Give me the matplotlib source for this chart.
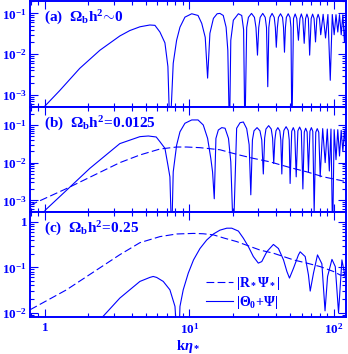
import matplotlib
matplotlib.use('Agg')
import matplotlib.pyplot as plt
from matplotlib.ticker import LogLocator, NullFormatter

blue = '#0000ff'

plt.rcParams['font.family'] = ['Liberation Serif', 'DejaVu Serif']
plt.rcParams['font.weight'] = 'bold'
plt.rcParams['mathtext.fontset'] = 'custom'
plt.rcParams['mathtext.rm'] = 'Liberation Serif:bold'
plt.rcParams['mathtext.it'] = 'Liberation Serif:bold:italic'
plt.rcParams['mathtext.bf'] = 'Liberation Serif:bold'

# panel (a): Omega_b h^2 ~ 0, |Theta_0 + Psi|
a_k = [1.0, 1.26, 1.74, 2.40, 3.30, 3.87, 4.55, 5.33, 5.78, 6.26, 6.78, 7.11, 7.35,
       7.74, 8.17, 8.62, 9.33, 10.4, 11.5, 12.2, 12.9, 13.4,
       13.9, 14.7, 15.6, 16.3, 17.2, 18.0, 18.5, 19.0,
       19.4, 20.2, 21.9, 23.1, 23.8, 24.3,
       25.0, 25.7, 27.0, 28.3, 29.0, 29.7,
       30.3, 31.0, 32.3, 33.6, 34.3, 35.0,
       35.6, 36.3, 37.5, 38.8, 39.5, 40.1,
       40.8, 41.5, 42.9, 44.3, 45.0, 45.7,
       46.4, 47.1, 48.5, 49.9, 50.7, 51.4,
       52.8, 54.2, 55.6, 57.1,
       58.5, 59.8, 61.2, 62.6,
       64.0, 65.4, 66.9, 68.3,
       70.0, 71.6, 73.3, 75.0,
       76.6, 78.2, 79.9, 81.5,
       84.7, 88.0, 91.4, 94.9, 98.0, 101, 104, 107, 110, 113, 116, 119, 122]
a_v = [5.4e-4, 1.27e-3, 4.5e-3, 0.0125, 0.028, 0.038, 0.047, 0.052, 0.051, 0.035, 0.019, 0.005, 1e-4,
       0.006, 0.022, 0.046, 0.081, 0.098, 0.089, 0.057, 0.026, 0.0026,
       0.0325, 0.0755, 0.098, 0.1, 0.089, 0.046, 0.0125, 1e-4,
       0.022, 0.068, 0.098, 0.089, 0.04, 1e-4,
       0.045, 0.08, 0.1, 0.08, 0.045, 0.0095,
       0.045, 0.08, 0.1, 0.08, 0.045, 0.0016,
       0.045, 0.08, 0.1, 0.08, 0.045, 0.0148,
       0.045, 0.08, 0.098, 0.08, 0.045, 0.0112,
       0.045, 0.08, 0.098, 0.08, 0.045, 1e-4,
       0.075, 0.097, 0.075, 0.022,
       0.075, 0.097, 0.075, 0.0185,
       0.075, 0.096, 0.075, 0.0095,
       0.075, 0.096, 0.075, 0.02,
       0.075, 0.095, 0.075, 0.03,
       0.095, 0.025, 0.094, 0.0023, 0.094, 0.03, 0.093, 0.035, 0.093, 0.03, 0.092, 0.02, 0.09]

# panel (b): Omega_b h^2 = 0.0125
b_k = [1.0, 1.41, 2.04, 3.30, 4.55, 5.2, 5.9, 6.26, 6.78, 7.11, 7.34, 7.55,
       7.74, 8.17, 8.62, 9.33, 10.4, 11.5, 12.5, 13.4, 14.1, 14.5, 14.9,
       15.3, 15.9, 16.8, 17.7, 18.7, 19.4, 20.2,
       21.3, 22.5, 23.7, 25.0, 26.0, 26.7,
       27.4, 28.1, 29.5, 30.9, 31.8, 32.6,
       33.3, 34.0, 35.5, 37.0, 37.8, 38.5,
       39.2, 39.9, 41.1, 42.4, 43.1, 43.8,
       44.5, 45.3, 46.9, 48.5, 49.3, 50.0,
       51.3, 52.6, 53.8, 55.1,
       56.6, 58.2, 59.8, 61.3,
       62.7, 64.1, 65.6, 67.0,
       68.6, 70.2, 71.8, 73.4,
       75.3, 77.1, 79.0, 80.8,
       84.1, 87.5, 90.5, 93.5, 96.0, 98.5, 101, 104, 107, 110, 113, 116, 119, 122]
b_v = [5.4e-4, 1.85e-3, 7.0e-3, 0.032, 0.049, 0.051, 0.048, 0.036, 0.024, 0.0086, 0.0042, 1e-4,
       0.0057, 0.029, 0.066, 0.111, 0.136, 0.136, 0.1, 0.044, 0.013, 0.0057, 0.0011,
       0.044, 0.0736, 0.085, 0.082, 0.044, 0.0105, 1e-4,
       0.082, 0.115, 0.12, 0.08, 0.03, 0.0014,
       0.04, 0.07, 0.085, 0.07, 0.04, 0.005,
       0.045, 0.078, 0.096, 0.078, 0.045, 0.0095,
       0.04, 0.07, 0.085, 0.07, 0.04, 0.005,
       0.04, 0.072, 0.09, 0.072, 0.04, 0.0028,
       0.068, 0.085, 0.068, 0.0042,
       0.07, 0.088, 0.07, 0.002,
       0.065, 0.082, 0.065, 0.0057,
       0.068, 0.085, 0.068, 5e-4,
       0.064, 0.08, 0.064, 0.0042,
       0.08, 0.01, 0.078, 0.006, 0.078, 1e-4, 0.075, 0.012, 0.075, 0.015, 0.072, 0.02, 0.07, 0.02]
bd_k = [0.787, 1.41, 3.30, 4.55, 6.26, 8.17, 9.59, 11.86, 16.3, 20.2, 22.5, 27.8, 36.3, 50.0, 65.3, 85.0, 111, 124]
bd_v = [7.4e-4, 2.05e-3, 0.010, 0.016, 0.023, 0.026, 0.026, 0.025, 0.022, 0.0176, 0.0158, 0.013, 0.0105,
        0.0074, 0.0057, 0.0042, 0.0034, 0.0031]

# panel (c): Omega_b h^2 = 0.25
c_k = [2.3, 3.30, 3.87, 4.55, 5.33, 5.62, 5.94, 6.60, 7.34, 7.96, 8.39, 8.62, 9.08, 9.84, 10.7,
       11.86, 13.2, 14.7, 16.3, 18.2, 19.7, 21.9, 23.7, 25.7, 27.8, 30.1, 31.8, 34.5, 38.3, 41.5,
       45.0, 47.5, 49.5, 52.8, 57.1, 58.7, 63.6, 67.0, 68.9, 72.6, 77.4, 83.0, 87.3, 90.9, 97.5,
       102.8, 108.3, 114.3, 120.6]
c_v = [0.006, 0.021, 0.032, 0.049, 0.06, 0.063, 0.06, 0.049, 0.032, 0.0138, 1e-3, 0.0138, 0.032, 0.0745, 0.146,
       0.26, 0.40, 0.544, 0.66, 0.73, 0.73, 0.63, 0.44, 0.286, 0.173, 0.124, 0.134, 0.222, 0.32, 0.26,
       0.146, 0.081, 0.058, 0.096, 0.188, 0.22, 0.173, 0.068, 0.03, 0.0745, 0.188, 0.12, 0.011, 0.063, 0.15,
       0.104, 0.01, 0.146, 0.06]
cd_k = [0.787, 1.41, 3.30, 4.55, 6.26, 8.17, 10.7, 12.5, 14.7, 17.5, 21.3, 24.8, 31.0, 38.3, 52.8, 65.3,
        80.8, 100, 111, 122]
cd_v = [0.0116, 0.032, 0.19, 0.35, 0.476, 0.544, 0.56, 0.55, 0.52, 0.44, 0.37, 0.31, 0.24, 0.205, 0.146,
        0.124, 0.104, 0.081, 0.068, 0.065]

panel_labels = [r'(a)  $\Omega_{\rm b}{\rm h}^2\!\sim\!0$',
                r'(b)  $\Omega_{\rm b}{\rm h}^2\!=\!0.0125$',
                r'(c)  $\Omega_{\rm b}{\rm h}^2\!=\!0.25$']
ylims = [(5.1e-4, 0.207), (4.9e-4, 0.30), (8.05e-3, 1.66)]
yticks = [[1e-3, 1e-2, 1e-1], [1e-3, 1e-2, 1e-1], [1e-2, 1e-1, 1]]
yticklabels = [[r'$10^{-3}$', r'$10^{-2}$', r'$10^{-1}$'],
               [r'$10^{-3}$', r'$10^{-2}$', r'$10^{-1}$'],
               [r'$10^{-2}$', r'$10^{-1}$', '1']]
xlim = (0.787, 122)

fig = plt.figure(figsize=(3.48, 3.54), dpi=100)
L, W = 30/348, 316/348
boxes = [(L, 1 - 107/354, W, 106.5/354),
         (L, 1 - 212/354, W, 105/354),
         (L, 1 - 317/354, W, 105/354)]
axes = [fig.add_axes(b) for b in boxes]

solid = [(a_k, a_v), (b_k, b_v), (c_k, c_v)]
dashed = [None, (bd_k, bd_v), (cd_k, cd_v)]

for i, ax in enumerate(axes):
    ax.set_xscale('log')
    ax.set_yscale('log')
    if dashed[i] is not None:
        ax.plot(dashed[i][0], dashed[i][1], color=blue, lw=0.8, dashes=(7, 3),
                label=r'$|\mathrm{R}_*\Psi_*|$')
    ax.plot(solid[i][0], solid[i][1], color=blue, lw=0.8, label=r'$|\Theta_0\!+\!\Psi|$')
    ax.set_xlim(xlim)
    ax.set_ylim(ylims[i])
    ax.set_yticks(yticks[i])
    ax.set_yticklabels(yticklabels[i])
    ax.yaxis.set_minor_locator(LogLocator(base=10, subs=range(2, 10), numticks=20))
    ax.yaxis.set_minor_formatter(NullFormatter())
    ax.set_xticks([1, 10, 100])
    ax.xaxis.set_minor_locator(LogLocator(base=10, subs=range(2, 10), numticks=20))
    ax.xaxis.set_minor_formatter(NullFormatter())
    if i < 2:
        ax.set_xticklabels([])
    else:
        ax.set_xticklabels(['1', r'$10^1$', r'$10^2$'])
    ax.tick_params(which='both', direction='in', top=True, right=True, colors=blue,
                   labelsize=9.5, width=0.8)
    ax.tick_params(which='major', length=6)
    ax.tick_params(which='minor', length=3.2)
    ax.tick_params(axis='y', pad=2)
    for s in ax.spines.values():
        s.set_color(blue)
        s.set_linewidth(1.4)
    ax.text(0.044, 0.84, panel_labels[i], transform=ax.transAxes, color=blue,
            fontsize=11, ha='left', va='center')

axes[2].set_xlabel(r'$\mathrm{k}\eta_*$', color=blue, fontsize=10.5, labelpad=1)
h, lab = axes[2].get_legend_handles_labels()
leg = axes[2].legend(h, lab, loc='upper left', bbox_to_anchor=(0.556, 0.40), frameon=False,
                     fontsize=10, handlelength=2.0, handletextpad=0.2, labelspacing=0.15,
                     borderpad=0, borderaxespad=0)
for t in leg.get_texts():
    t.set_color(blue)

fig.savefig('out.png', dpi=100)
